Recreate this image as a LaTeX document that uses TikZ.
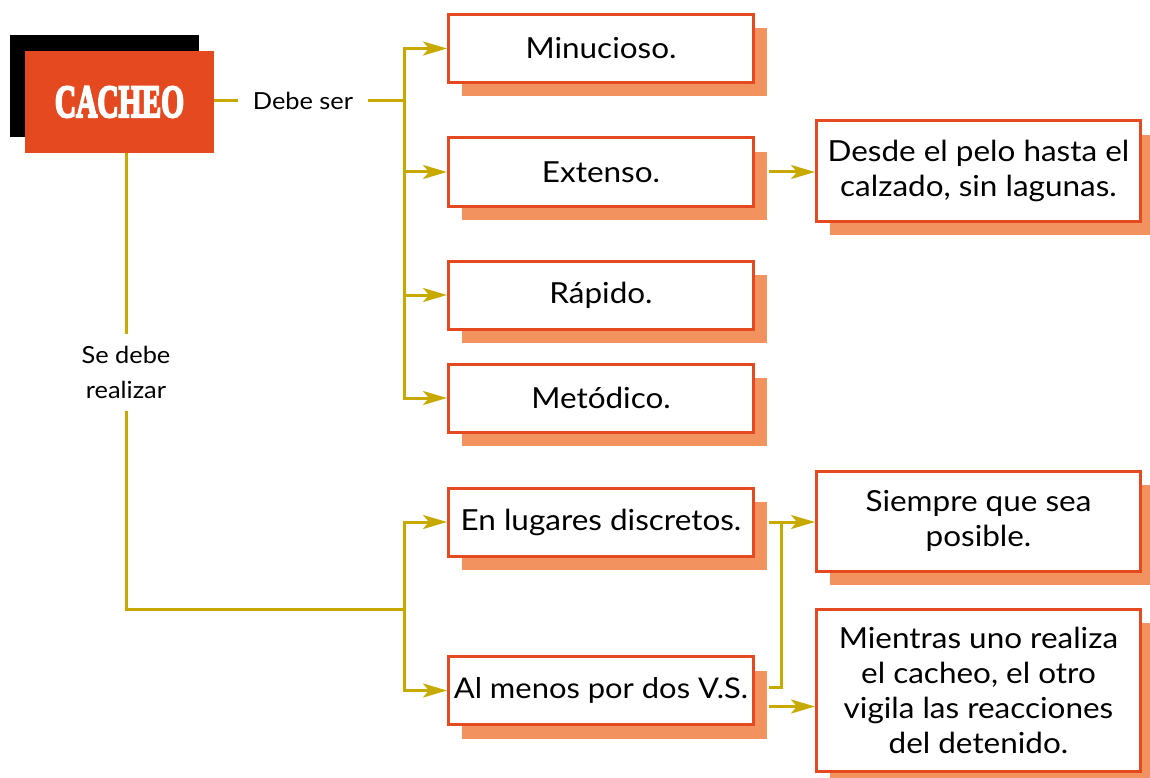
\documentclass[tikz,border=0pt]{standalone}
\usepackage{fontspec}
\usepackage{graphicx}
\setmainfont{Lato}[FakeStretch=1.085]
\newfontfamily\lblfont{Lato}[FakeStretch=1.08]
\newfontfamily\headfont{Liberation Serif}[FakeBold=5]
\usetikzlibrary{shadows,arrows.meta}
\definecolor{gold}{HTML}{C8A900}
\definecolor{boxred}{HTML}{E5491F}
\definecolor{shade}{HTML}{F2925F}
\tikzset{
  x=1pt,y=-1pt,
  box/.style={draw=boxred,line width=3pt,fill=white,align=center,
    font=\fontsize{29}{35}\selectfont,inner sep=0pt,
    general shadow={fill=shade,shadow xshift=13pt,shadow yshift=-14pt}},
  lbox/.style={box,minimum width=305pt,minimum height=68pt},
  rbox/.style={box,minimum width=324pt},
  conn/.style={draw=gold,line width=3pt},
  arr/.style={conn,-{Stealth[length=24pt,width=14pt,inset=6pt]}},
  lbl/.style={font=\lblfont\fontsize{23.5}{35}\selectfont,align=center,inner ysep=0pt}
}
\begin{document}
\begin{tikzpicture}
\useasboundingbox (0,0) rectangle (1150,778);
% head
\node[fill=boxred,minimum width=189pt,minimum height=102pt,inner sep=0pt,
  general shadow={fill=black,shadow xshift=-15pt,shadow yshift=16pt}]
  (cacheo) at (119.5,102) {\headfont\bfseries\fontsize{46}{46}\selectfont\textcolor{white}{\scalebox{0.64}[1]{CACHEO}}};
% left boxes
\node[lbox] (min) at (601,48.5) {Minucioso.};
\node[lbox] (ext) at (601,172) {Extenso.};
\node[lbox] (rap) at (601,295) {Rápido.};
\node[lbox] (met) at (601,398) {Metódico.};
\node[lbox] (lug) at (601,522) {En lugares discretos.};
\node[lbox] (men) at (601,690.5) {\fontsize{28.5}{35}\selectfont Al menos por dos V.S.};
% right boxes
\node[rbox,minimum height=100pt] (des) at (978.5,171) {Desde el pelo hasta el\\calzado, sin lagunas.};
\node[rbox,minimum height=100pt] (sie) at (978.5,521) {Siempre que sea\\posible.};
\node[rbox,minimum height=162pt] (mie) at (978.5,690) {Mientras uno realiza\\el cacheo, el otro\\vigila las reacciones\\del detenido.};
% labels
\node[lbl,inner xsep=15pt] (debe) at (303,101) {Debe ser};
\node[lbl,inner ysep=12pt] (se) at (126,372.5) {Se debe\\realizar};
% junctions
\coordinate (j1) at (404,101);
\coordinate (j2) at (404,609);
\coordinate (k) at (781,522);
% connectors
\draw[conn] (cacheo.east |- debe.west) -- (debe.west);
\draw[conn] (debe.east) -- (j1);
\draw[arr] (j1) |- (min.west);
\draw[arr] (j1) |- (ext.west);
\draw[arr] (j1) |- (rap.west);
\draw[arr] (j1) |- (met.west);
\draw[conn] (cacheo.south -| se.north) -- (se.north);
\draw[conn] (se.south) |- (j2);
\draw[arr] (j2) |- (lug.west);
\draw[arr] (j2) |- (men.west);
\draw[arr] ([xshift=14pt]ext.east) -- (ext.east -| des.west);
\draw[arr] ([xshift=14pt]lug.east) -- (lug.east -| sie.west);
\draw[conn] ([xshift=14pt,yshift=3pt]men.east) -| (k);
\draw[arr] ([xshift=14pt,yshift=-16pt]men.east) -- ([yshift=-16pt]men.east -| mie.west);
\end{tikzpicture}
\end{document}
